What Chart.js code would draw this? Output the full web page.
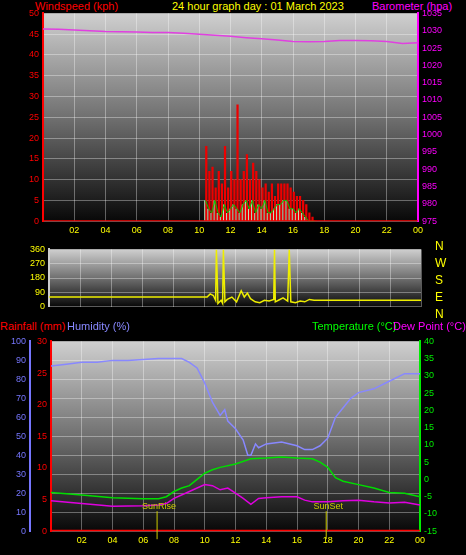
<!DOCTYPE html>
<html><head><meta charset="utf-8">
<script src="https://cdn.jsdelivr.net/npm/chart.js@4"></script>
<style>
body{margin:0;background:#000;width:466px;height:555px;overflow:hidden;font-family:"Liberation Sans",Arial,sans-serif}
.box{position:absolute}
.t{position:absolute;font-size:11px;white-space:nowrap}
</style></head><body>
<div class="t" style="left:35px;top:0;color:#f00">Windspeed (kph)</div>
<div class="t" style="left:172px;top:0;color:#ff0">24 hour graph day : 01 March 2023</div>
<div class="t" style="left:372px;top:0;color:#f0f">Barometer (hpa)</div>
<div class="box" style="left:0;top:4px;width:466px;height:236px"><canvas id="wind"></canvas></div>
<div class="box" style="left:0;top:240px;width:466px;height:76px"><canvas id="dir"></canvas></div>
<div class="t" style="left:435px;top:238px;color:#ff0;font-size:12px;line-height:17px">N<br>W<br>S<br>E<br>N</div>
<div class="t" style="left:0;top:320px;color:#f00">Rainfall (mm)</div>
<div class="t" style="left:67px;top:320px;color:#88f">Humidity (%)</div>
<div class="t" style="left:312px;top:320px;color:#0f0">Temperature (°C)</div>
<div class="t" style="left:393px;top:320px;color:#f0f">Dew Point (°C)</div>
<div class="box" style="left:0;top:332px;width:466px;height:218px"><canvas id="thp"></canvas></div>
<script>
// top panel
const baroHours = [0,1,2,3,4,5,6,7,8,9,10,11,12,13,14,15,16,17,18,19,20,21,22,23,24];
const baroValues = [1030.5,1030.4,1030.2,1030.0,1029.8,1029.7,1029.6,1029.5,1029.5,1029.3,1029.0,1028.7,1028.4,1028.0,1027.7,1027.3,1026.9,1026.8,1026.9,1027.2,1027.2,1027.1,1026.9,1026.3,1026.5];
const gustHours = [10.4,10.6,10.8,11.0,11.2,11.4,11.6,11.8,12.0,12.2,12.4,12.6,12.8,13.0,13.2,13.4,13.6,13.8,14.0,14.2,14.4,14.6,14.8,15.0,15.2,15.4,15.6,15.8,16.0,16.2,16.4,16.6,16.8,17.0,17.2,17.4];
const gustValues = [18,12,13,8,12,9,18,8,12,10,28,10,12,16,10,14,12,10,8,9,7,9,6,9,9,9,9,8,7,6,6,5,4,2,1,0];
const avgValues = [5,3,2,5,2,1,4,2,3,4,3,2,4,5,3,5,2,4,3,5,2,2,3,4,4,5,5,3,3,2,3,2,1,0,0,0];
// wind direction
const dirHours = [0,10.2,10.4,10.6,10.75,10.8,10.9,11.1,11.2,11.25,11.35,11.5,11.8,12.1,12.4,12.6,12.8,13.0,13.3,13.6,13.9,14.2,14.5,14.55,14.6,14.8,15.1,15.4,15.5,15.6,15.9,16.2,16.5,16.8,17.1,24];
const dirValues = [60,60,80,70,40,360,20,40,20,360,30,45,60,30,100,60,85,50,30,25,40,35,45,360,30,40,55,35,360,30,25,35,30,45,40,40];
// bottom panel
const humHours = [0,1,2,3,4,5,6,7,8,8.5,9,9.5,10,10.5,11,11.3,11.5,12,12.5,12.8,13,13.3,13.5,14,15,16,16.5,17,17.5,18,18.5,19,19.5,20,21,22,23,24];
const humValues = [87,88,89,89,90,90,90.5,91,91,91,89,86,78,68,61,64,58,54,48,40,40,46,44,46,47,45,43,43,45,49,60,65,70,73,75,79,83,83];
const tempHours = [0,2,4,6,7,7.5,8,8.5,9,9.5,10,10.5,11,12,13,14,15,16,17,17.5,18,18.5,19,20,21,22,23,24];
const tempValues = [-3.8,-4.5,-5.3,-5.6,-5.6,-5,-3.5,-2.5,-1.8,0,1.8,2.8,3.5,4.5,6,6.2,6.5,6.2,6,5,3.5,0.5,-0.5,-1.5,-2.5,-3.8,-4,-5];
const dewHours = [0,2,4,6,7,7.5,8,9,10,10.5,11,11.5,12,12.5,13,13.5,14,15,16,16.5,17,18,19,20,21,22,23,24];
const dewValues = [-6.2,-7,-7.8,-7.6,-7.4,-7,-5.5,-3.5,-1.5,-1.8,-3,-2.5,-4,-5.5,-7.2,-5.5,-5.3,-5,-5,-6,-6.5,-6.5,-6.2,-6,-6.5,-6.8,-6.6,-7.4];
const rainHours = [0,24];
const rainValues = [0,0];
const xTicks = ['02','04','06','08','10','12','14','16','18','20','22','00'];

const pts = (xs, ys) => xs.map((x, i) => ({x: x, y: ys[i]}));
const F = {family: 'Liberation Sans', size: 9};

// grey gradient plot background + sun lines
const bg = {
  id: 'bg',
  beforeDraw(c) {
    const a = c.chartArea, g = c.ctx.createLinearGradient(0, a.top, 0, a.bottom);
    g.addColorStop(0, '#cfcfcf'); g.addColorStop(0.5, '#707070'); g.addColorStop(1, '#080808');
    c.ctx.fillStyle = g; c.ctx.fillRect(a.left, a.top, a.right - a.left, a.bottom - a.top);
  },
  afterDatasetsDraw(c, args, o) {
    if (!o.sun) return;
    const ctx = c.ctx, x = c.scales.x;
    ctx.save(); ctx.strokeStyle = '#cc0'; ctx.fillStyle = '#cc0'; ctx.font = '9px Liberation Sans'; ctx.textAlign = 'center';
    [[6.9, 'SunRise'], [17.9, 'SunSet']].forEach(([h, t]) => {
      const px = x.getPixelForValue(h);
      ctx.beginPath(); ctx.moveTo(px, c.chartArea.bottom - 20); ctx.lineTo(px, c.chartArea.bottom + 8); ctx.stroke();
      ctx.fillText(t, px + 2, c.chartArea.bottom - 22);
    });
    ctx.restore();
  }
};
const xAxis = (show) => ({
  type: 'linear', min: 0, max: 24, offset: false,
  afterBuildTicks: s => { s.ticks = [2,4,6,8,10,12,14,16,18,20,22,24].map(v => ({value: v})); },
  grid: {color: 'rgba(255,255,255,0.35)', borderDash: [1, 2], drawTicks: false, offset: false},
  border: {display: false},
  ticks: {display: show, color: '#ff0', font: F, padding: 4, callback: (v, i) => xTicks[i]}
});
const yAxis = (pos, color, min, max, step, w, grid) => ({
  type: 'linear', position: pos, min: min, max: max,
  afterFit: s => { s.width = w; },
  grid: {display: grid, color: 'rgba(255,255,255,0.35)', borderDash: [1, 2], drawTicks: false},
  border: {color: color, width: 2},
  ticks: {color: color, font: F, stepSize: step, padding: 4, callback: v => String(v)}
});
const base = (sun) => ({
  responsive: true, maintainAspectRatio: false, animation: false,
  plugins: {legend: {display: false}, tooltip: {enabled: false}, bg: {sun: sun}},
  elements: {point: {radius: 0}, line: {borderWidth: 1.5, tension: 0}}
});

new Chart(document.querySelector('#wind'), {
  data: {datasets: [
    {type: 'line', data: pts(baroHours, baroValues), borderColor: '#e040e0', yAxisID: 'baro', order: 0},
    {type: 'line', data: pts([0, 24], [0, 0]), borderColor: '#f00', borderWidth: 2, yAxisID: 'y', order: 1},
    {type: 'line', data: pts(gustHours, avgValues), borderColor: '#0c0', borderWidth: 1, yAxisID: 'y', order: 2},
    {type: 'bar', data: pts(gustHours, avgValues), backgroundColor: '#c8f0c8', barPercentage: 0.6, categoryPercentage: 1, yAxisID: 'y', order: 3},
    {type: 'bar', data: pts(gustHours, gustValues), backgroundColor: '#e00', barPercentage: 1, categoryPercentage: 1, yAxisID: 'y', order: 4}
  ]},
  options: Object.assign(base(false), {
    layout: {padding: {top: 6}},
    scales: {
      x: xAxis(true),
      y: yAxis('left', '#f00', 0, 50, 5, 43, true),
      baro: yAxis('right', '#f0f', 975, 1035, 5, 48, false)
    }
  }),
  plugins: [bg]
});

new Chart(document.querySelector('#dir'), {
  data: {datasets: [
    {type: 'line', data: pts(dirHours, dirValues), borderColor: '#ee0', yAxisID: 'y'}
  ]},
  options: Object.assign(base(false), {
    layout: {padding: {top: 2, bottom: 0, right: 45}},
    scales: {
      x: xAxis(false),
      y: Object.assign(yAxis('left', '#ff0', 0, 360, 90, 49, true), {border: {color: '#ccc', width: 2}})
    }
  }),
  plugins: [bg]
});

new Chart(document.querySelector('#thp'), {
  data: {datasets: [
    {type: 'line', data: pts(humHours, humValues), borderColor: '#8888ff', yAxisID: 'hum'},
    {type: 'line', data: pts(tempHours, tempValues), borderColor: '#0d0', yAxisID: 'temp'},
    {type: 'line', data: pts(dewHours, dewValues), borderColor: '#e000e0', yAxisID: 'temp'},
    {type: 'line', data: pts(rainHours, rainValues), borderColor: '#f00', borderWidth: 3, yAxisID: 'rain'}
  ]},
  options: Object.assign(base(true), {
    layout: {padding: {top: 6}},
    scales: {
      x: xAxis(true),
      rain: yAxis('left', '#f00', 0, 30, 5, 21, false),
      hum: yAxis('left', '#77f', 0, 100, 10, 30, true),
      temp: yAxis('right', '#0e0', -15, 40, 5, 46, false)
    }
  }),
  plugins: [bg]
});
</script>
</body></html>
